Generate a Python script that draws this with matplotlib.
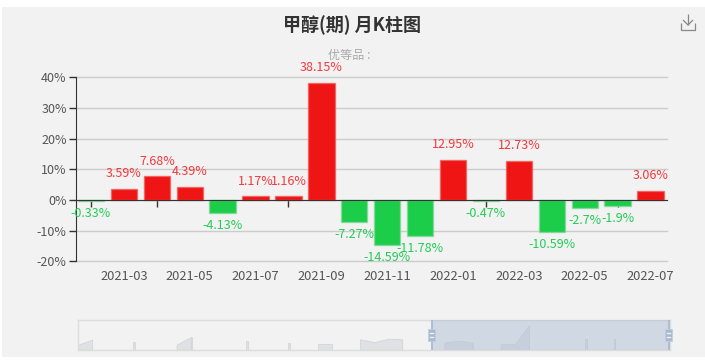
import matplotlib
matplotlib.use("Agg")
import matplotlib.pyplot as plt
from matplotlib.patches import Rectangle

plt.rcParams['font.family'] = ['Noto Sans CJK SC', 'DejaVu Sans']

W, H = 705, 362

months = ["2021-02", "2021-03", "2021-04", "2021-05", "2021-06", "2021-07",
          "2021-08", "2021-09", "2021-10", "2021-11", "2021-12", "2022-01",
          "2022-02", "2022-03", "2022-04", "2022-05", "2022-06", "2022-07"]
changes = [-0.33, 3.59, 7.68, 4.39, -4.13, 1.17, 1.16, 38.15, -7.27,
           -14.59, -11.78, 12.95, -0.47, 12.73, -10.59, -2.7, -1.9, 3.06]
y_ticks = [-20, -10, 0, 10, 20, 30, 40]

# shadow of the zoom slider, one run per blob (slot number, height)
shadow_x = [[0, 1], [3.93, 4.03], [7, 8], [8, 8.08], [11.95, 12.05], [14.9, 15.05],
            [17, 18], [20, 21, 22, 23], [26, 27, 28], [30, 31, 32], [36, 36.1], [38, 38.1]]
shadow_y = [[5, 10], [8, 8], [5, 12.5], [12.5, 12.5], [9, 9], [6.5, 6.5],
            [5.5, 5.5], [10.5, 7.5, 11, 10.5], [7, 9, 7], [5.5, 5.5, 24.5], [11, 11], [11, 11]]
window = [25.1, 41.9]

RED = "#ef1515"
GREEN = "#1ccd4a"


def box(x0, y0, x1, y1):
    # pixel box of the reference -> figure fractions
    return [x0 / W, 1 - y1 / H, (x1 - x0) / W, (y1 - y0) / H]


fig = plt.figure(figsize=(W / 100, H / 100), dpi=100, facecolor="white")
fig.add_artist(Rectangle((2 / W, 1 - 357 / H), 703 / W, 350 / H, transform=fig.transFigure,
                         fc="#f2f2f2", ec="none", zorder=-1))

ax = fig.add_axes(box(75.7, 77.3, 667, 261.3))
ax.patch.set_alpha(0)
ax.set_xlim(-0.465, 17.5)
ax.set_ylim(-20, 40)
ax.set_axisbelow(True)

for i, v in enumerate(changes):
    if v >= 0:
        ax.bar(i, v, width=0.8, color=RED, edgecolor=(0.95, 0.35, 0.35, 0.7), linewidth=1)
        ax.annotate(f"{v:g}%", (i, v), xytext=(0, 11), textcoords="offset points",
                    ha="center", va="center", fontsize=9, color="#f2383c", zorder=5)
    else:
        ax.bar(i, v, width=0.8, color=GREEN, edgecolor=(0.5, 0.85, 0.6, 0.7), linewidth=1)
        ax.annotate(f"{v:g}%", (i, v), xytext=(0, -9), textcoords="offset points",
                    ha="center", va="center", fontsize=9, color="#22cc55", zorder=5)

ax.grid(axis="y", color="#cccccc", linewidth=1, clip_on=False)
ax.set_yticks(y_ticks)
ax.set_yticklabels([f"{t}%" for t in y_ticks], fontsize=9, color="#555555")
ax.tick_params(axis="y", length=5, width=1, color="#333333", pad=1.5)

ax.spines["top"].set_visible(False)
ax.spines["right"].set_visible(False)
ax.spines["left"].set_color("#333333")
ax.spines["bottom"].set_position(("data", 0))
ax.spines["bottom"].set_color("#333333")

ax.set_xticks(range(0, len(months), 2))
ax.set_xticklabels([])
ax.tick_params(axis="x", length=5, width=1, color="#333333")

# month labels sit at the bottom and between the ticks
for i in range(1, len(months), 2):
    ax.text(i, -0.084, months[i], transform=ax.get_xaxis_transform(), ha="center", va="center",
            fontsize=9.3, color="#555555")

fig.text(352 / W, 1 - 25 / H, "甲醇(期) 月K柱图", ha="center", va="center",
         fontsize=13, fontweight="bold", color="#333333")
fig.text(328 / W, 1 - 56 / H, "优等品 :", ha="left", va="center", fontsize=8.7, color="#aaaaaa")

# zoom slider
sl = fig.add_axes(box(78, 320, 670, 349.7))
sl.patch.set_alpha(0)
sl.set_xlim(0, 42)
sl.set_ylim(0, 29.7)
sl.set_xticks([])
sl.set_yticks([])
for side in ["top", "left", "right", "bottom"]:
    sl.spines[side].set_color("#dddddd")
    sl.spines[side].set_linewidth(1)
for xs, ys in zip(shadow_x, shadow_y):
    sl.fill_between(xs, 0, ys, color="#dfe1e4", linewidth=0.6, edgecolor="#d3d5d9", zorder=2)
sl.axvspan(window[0], window[1], color="#b0bfd6", alpha=0.5, linewidth=0, zorder=3)
for w in window:
    sl.axvline(w, color="#a9b9d0", linewidth=1.3, zorder=4)
    sl.add_patch(Rectangle((w - 0.24, 8.5), 0.48, 12, fc="#a9b9d0", ec="#c3cedf", lw=0.6,
                           zorder=5, clip_on=False))
    for yy in [12.7, 16.3]:
        sl.plot([w - 0.12, w + 0.12], [yy, yy], color="#eef1f5", lw=1, zorder=6, clip_on=False)

# save icon, top right
icon = dict(color="#888888", lw=0.9, transform=fig.transFigure, solid_capstyle="butt")
for px, py in [([688, 688], [14, 25]), ([683, 688, 693], [20, 25, 20]),
               ([681, 681, 695, 695], [23, 29.5, 29.5, 23])]:
    fig.add_artist(plt.Line2D([p / W for p in px], [1 - p / H for p in py], **icon))

fig.savefig("out.png", dpi=100, facecolor="white")
